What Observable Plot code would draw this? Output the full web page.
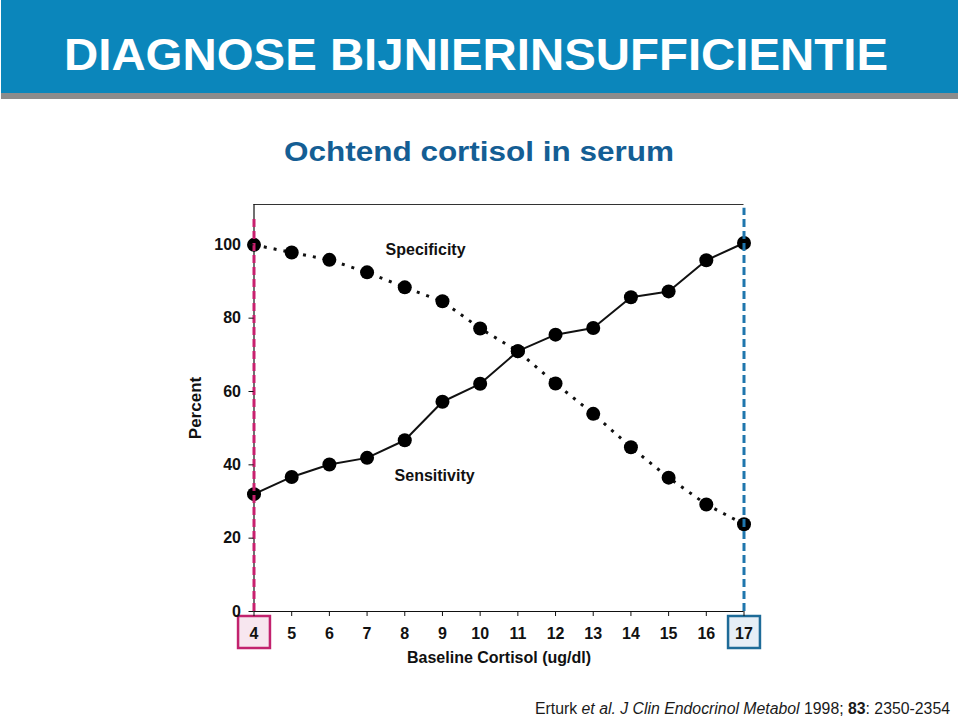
<!DOCTYPE html>
<html><head><meta charset="utf-8">
<script src="https://cdn.jsdelivr.net/npm/d3@7"></script>
<script src="https://cdn.jsdelivr.net/npm/@observablehq/plot@0.6"></script>
<style>
html,body{margin:0;padding:0;background:#fff;}
#page{position:relative;width:960px;height:718px;overflow:hidden;font-family:"Liberation Sans",Arial,sans-serif;}
#deco{position:absolute;left:0;top:0;}
#chart{position:absolute;left:180px;top:195px;}
</style></head><body>
<div id="page">
<svg id="deco" width="960" height="718" font-family="Liberation Sans, Arial, sans-serif">
  <rect x="1" y="0" width="957" height="93" fill="#0b86bb"/>
  <rect x="1" y="93" width="957" height="6" fill="#8c8c8c"/>
  <text x="64" y="70" font-size="45" font-weight="bold" fill="#ffffff" textLength="824" lengthAdjust="spacingAndGlyphs">DIAGNOSE BIJNIERINSUFFICIENTIE</text>
  <text x="284" y="161" font-size="28.5" font-weight="bold" fill="#145e94" textLength="390" lengthAdjust="spacingAndGlyphs">Ochtend cortisol in serum</text>
  <text x="535" y="714" font-size="16" fill="#1a1a1a" textLength="415" lengthAdjust="spacingAndGlyphs">Erturk <tspan font-style="italic">et al. J Clin Endocrinol Metabol</tspan> 1998; <tspan font-weight="bold">83</tspan>: 2350-2354</text>
</svg>
<div id="chart"></div>
</div>
<script>
// Data
const cortisol    = [4, 5, 6, 7, 8, 9, 10, 11, 12, 13, 14, 15, 16, 17];
const sensitivity = [32, 36.7, 40.1, 41.9, 46.7, 57.2, 62.1, 71.0, 75.5, 77.3, 85.7, 87.3, 95.8, 100.5];
const specificity = [100, 97.9, 95.9, 92.5, 88.4, 84.6, 77.2, 71.0, 62.2, 53.9, 44.8, 36.5, 29.2, 23.8];
const yTicks = [0, 20, 40, 60, 80, 100];
const xTicks = cortisol;
const cutoffs = [4, 17];
const seriesLabels = [
  {text: "Specificity", x: 7.49, y: 98.7},
  {text: "Sensitivity", x: 7.73, y: 37.1}
];
const yLabel = "Percent";
const xLabel = "Baseline Cortisol (ug/dl)";

const sens = cortisol.map((x, i) => ({x, y: sensitivity[i]}));
const spec = cortisol.map((x, i) => ({x, y: specificity[i]}));
const yTop = 111;

const chart = Plot.plot({
  width: 600,
  height: 490,
  marginLeft: 73.5,
  marginRight: 36.5,
  marginTop: 9,
  marginBottom: 74,
  x: {domain: [4, 17]},
  y: {domain: [0, yTop]},
  style: {fontFamily: "Liberation Sans, Arial, sans-serif", fontSize: "16px", fontWeight: "bold", color: "#111", background: "transparent"},
  marks: [
    Plot.ruleY([yTop], {stroke: "#333", strokeWidth: 1.2}),
    Plot.ruleY([0], {stroke: "#111", strokeWidth: 1.2}),
    Plot.ruleX([cutoffs[0]], {stroke: "#111", strokeWidth: 1.2}),
    Plot.line(spec, {x: "x", y: "y", stroke: "#111", strokeWidth: 3, strokeDasharray: "3,7", strokeLinecap: "butt"}),
    Plot.line(sens, {x: "x", y: "y", stroke: "#111", strokeWidth: 2}),
    Plot.dot(spec, {x: "x", y: "y", r: 7, fill: "#000"}),
    Plot.dot(sens, {x: "x", y: "y", r: 7, fill: "#000"}),
    Plot.ruleX([cutoffs[0]], {y1: 0, y2: 107.5, stroke: "#c8206e", strokeWidth: 3, strokeDasharray: "8,4"}),
    Plot.ruleX([cutoffs[1]], {y1: 0, y2: 110, stroke: "#1f76ad", strokeWidth: 3, strokeDasharray: "8,4"}),
    Plot.dot([cutoffs[0]], {x: d => d, frameAnchor: "bottom", dy: 20.5, symbol: "square", r: 18, fill: "#f7e6ef", stroke: "#c2226e", strokeWidth: 2.5}),
    Plot.dot([cutoffs[1]], {x: d => d, frameAnchor: "bottom", dy: 20.5, symbol: "square", r: 18, fill: "#e6eef6", stroke: "#1e6b98", strokeWidth: 2.5}),
    Plot.axisX({ticks: xTicks, tickSize: 5, tickPadding: 11, tickFormat: d => String(d), label: null}),
    Plot.axisY({ticks: yTicks, tickSize: 5, tickPadding: 8, tickFormat: d => String(d), label: null}),
    Plot.text(seriesLabels, {x: "x", y: "y", text: "text", textAnchor: "start", fill: "#111", fontSize: 16, fontWeight: "bold"}),
    Plot.text([yLabel], {text: d => d, frameAnchor: "left", textAnchor: "middle", rotate: -90, dx: -58.5, fontSize: 17, fontWeight: "bold"}),
    Plot.text([xLabel], {text: d => d, frameAnchor: "bottom", dy: 51, fontSize: 16, fontWeight: "bold"})
  ]
});
document.getElementById("chart").appendChild(chart);
</script>
</body></html>
